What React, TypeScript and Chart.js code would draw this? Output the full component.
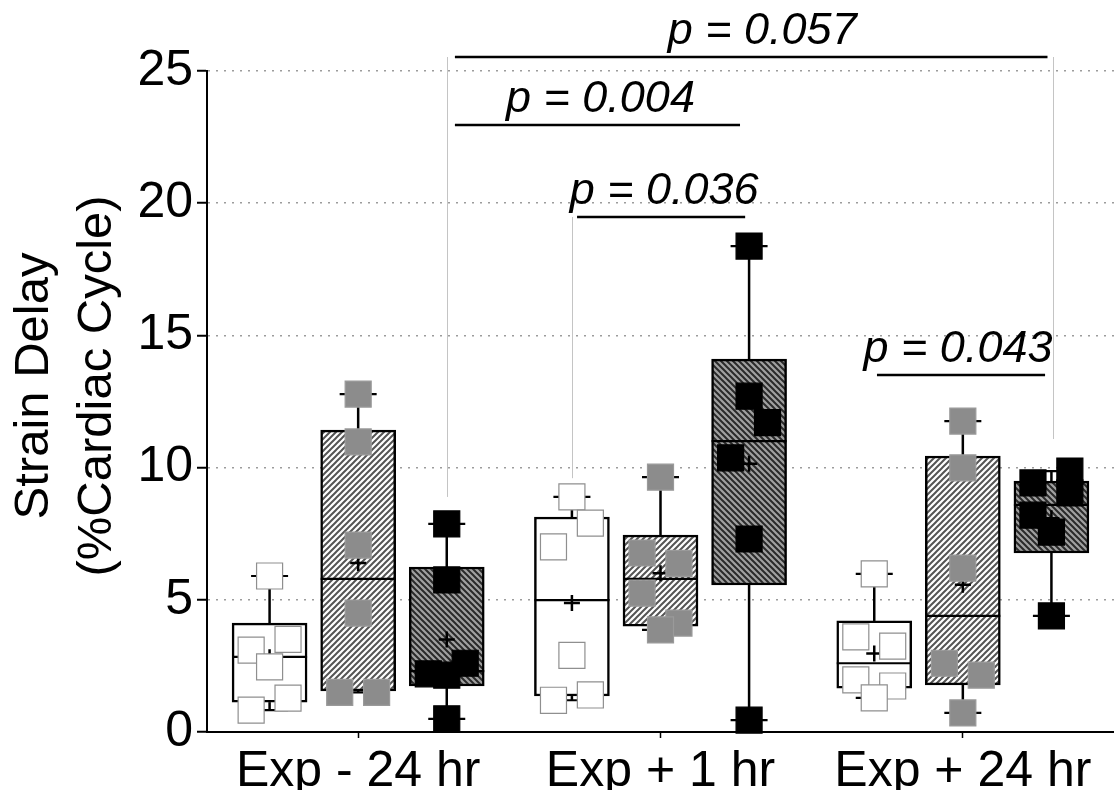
import React, { useEffect, useRef } from 'react';
import { Chart, registerables } from 'chart.js';

Chart.register(...registerables);

// ---------- data ----------
const CATEGORIES = ['Exp - 24 hr', 'Exp + 1 hr', 'Exp + 24 hr'];
const Y_TITLE = ['Strain Delay', '(%Cardiac Cycle)'];

// individual points per group (series A = white, B = light hatch, C = dark hatch)
const POINTS_A = [
  [5.9, 3.5, 3.1, 2.46, 1.28, 0.83],
  [8.89, 7.9, 7.0, 2.9, 1.2, 1.4],
  [5.98, 3.6, 3.25, 1.97, 1.74, 1.29],
];
const POINTS_B = [
  [12.78, 10.97, 7.07, 4.5, 1.5, 1.5],
  [9.64, 6.77, 6.38, 5.25, 4.12, 3.86],
  [11.76, 9.99, 6.2, 2.6, 2.15, 0.72],
];
const POINTS_C = [
  [7.87, 5.75, 2.6, 2.2, 2.15, 0.5],
  [18.38, 12.7, 11.7, 10.37, 7.3, 0.45],
  [9.87, 9.42, 9.04, 8.2, 7.56, 4.39],
];
// horizontal jitter slot of each point (-1 left, 0 centre, 1 right)
const JITTER_A = [[0, 1, -1, 0, 1, -1], [0, 1, -1, 0, -1, 1], [0, -1, 1, -1, 1, 0]];
const JITTER_B = [[0, 0, 0, 0, -1, 1], [0, -1, 1, -1, 1, 0], [0, 0, 0, -1, 1, 0]];
const JITTER_C = [[0, 0, 1, -1, 0, 0], [0, 0, 1, -1, 0, 0], [1, -1, 1, -1, 0, 0]];

// box statistics per group
const Q1_A = [1.13, 1.36, 1.66];
const MED_A = [2.84, 4.99, 2.6];
const Q3_A = [4.12, 8.13, 4.2];
const MIN_A = [0.83, 1.2, 1.29];
const MAX_A = [5.9, 8.89, 5.98];
const MEAN_A = [2.83, 4.88, 2.97];

const Q1_B = [1.55, 4.0, 1.78];
const MED_B = [5.79, 5.79, 4.39];
const Q3_B = [11.42, 7.45, 10.44];
const MIN_B = [1.5, 3.86, 0.72];
const MAX_B = [12.78, 9.64, 11.76];
const MEAN_B = [6.39, 6.0, 5.57];

const Q1_C = [1.74, 5.56, 6.77];
const MED_C = [2.3, 11.0, 8.59];
const Q3_C = [6.24, 14.1, 9.49];
const MIN_C = [0.5, 0.45, 4.39];
const MAX_C = [7.87, 18.38, 9.87];
const MEAN_C = [3.5, 10.15, 8.08];

// significance annotations (x in category units, y in data units)
const P_TEXT = ['p = 0.057', 'p = 0.004', 'p = 0.036', 'p = 0.043'];
const P_X1 = [1.32, 1.32, 1.724, 2.716];
const P_X2 = [3.28, 2.263, 2.28, 3.272];
const P_Y = [25.53, 22.96, 19.48, 13.5];
const LINK_X = [1.294, 1.707, 3.298];
const LINK_Y1 = [25.53, 19.48, 25.53];
const LINK_Y2 = [8.89, 9.6, 11.08];

// ---------- layout / style constants ----------
const W = 1114;
const H = 790;
const FONT = '"Liberation Sans", Arial, Helvetica, sans-serif';
const SERIES_SHIFT = [-0.293, 0, 0.293];
const JITTER_STEP = 0.061;
const P_TEXT_SHIFT = [11, 3, 3, -3];

const POINTS = [POINTS_A, POINTS_B, POINTS_C];
const JITTER = [JITTER_A, JITTER_B, JITTER_C];
const Q1 = [Q1_A, Q1_B, Q1_C];
const MED = [MED_A, MED_B, MED_C];
const Q3 = [Q3_A, Q3_B, Q3_C];
const MIN = [MIN_A, MIN_B, MIN_C];
const MAX = [MAX_A, MAX_B, MAX_C];
const MEAN = [MEAN_A, MEAN_B, MEAN_C];

function makeHatch(ctx: CanvasRenderingContext2D, bg: string, fg: string, dir: string, lw: number) {
  const s = 6;
  const c = document.createElement('canvas');
  c.width = s;
  c.height = s;
  const x = c.getContext('2d')!;
  x.fillStyle = bg;
  x.fillRect(0, 0, s, s);
  x.strokeStyle = fg;
  x.lineWidth = lw;
  x.beginPath();
  if (dir === '/') {
    x.moveTo(-s, 2 * s); x.lineTo(2 * s, -s);
    x.moveTo(-s, s); x.lineTo(s, -s);
    x.moveTo(0, 2 * s); x.lineTo(2 * s, 0);
  } else {
    x.moveTo(-s, -s); x.lineTo(2 * s, 2 * s);
    x.moveTo(-s, 0); x.lineTo(s, 2 * s);
    x.moveTo(0, -s); x.lineTo(2 * s, s);
  }
  x.stroke();
  return ctx.createPattern(c, 'repeat');
}

export default function App() {
  const ref = useRef<HTMLCanvasElement>(null);

  useEffect(() => {
    const canvas = ref.current!;
    const ctx = canvas.getContext('2d')!;
    const fills: any[] = [
      '#ffffff',
      makeHatch(ctx, '#ffffff', '#555555', '/', 2),
      makeHatch(ctx, '#a0a0a0', '#2a2a2a', '\\', 2),
    ];
    const pointFill = ['#ffffff', '#8c8c8c', '#000000'];
    const pointBorder = ['#8f8f8f', '#9a9a9a', '#000000'];

    const boxDatasets = [0, 1, 2].map((si) => ({
      type: 'bar',
      kind: 'box',
      series: si,
      data: CATEGORIES.map((_, g) => ({ x: g + 1 + SERIES_SHIFT[si], y: [Q1[si][g], Q3[si][g]] })),
      backgroundColor: fills[si],
      borderColor: '#000',
      borderWidth: 2.5,
      borderSkipped: false,
      barThickness: 75,
      grouped: false,
      order: 3,
      clip: false,
    }));

    const meanDatasets = [0, 1, 2].map((si) => ({
      type: 'scatter',
      data: CATEGORIES.map((_, g) => ({ x: g + 1 + SERIES_SHIFT[si], y: MEAN[si][g] })),
      pointStyle: 'cross',
      pointRadius: 8,
      borderColor: '#000',
      borderWidth: 2.5,
      backgroundColor: '#000',
      order: 2,
      clip: false,
    }));

    const pointDatasets = [0, 1, 2].map((si) => ({
      type: 'scatter',
      data: POINTS[si].flatMap((vals, g) =>
        vals.map((v, k) => ({ x: g + 1 + SERIES_SHIFT[si] + JITTER[si][g][k] * JITTER_STEP, y: v }))
      ),
      pointStyle: 'rect',
      pointRadius: 18.4,
      backgroundColor: pointFill[si],
      borderColor: pointBorder[si],
      borderWidth: 1.2,
      order: 1,
      clip: false,
    }));

    const boxPlugin = {
      id: 'boxWhiskers',
      afterDatasetDraw(chart: any, args: any) {
        const ds = chart.data.datasets[args.index];
        if (ds.kind !== 'box') return;
        const si = ds.series;
        const y = chart.scales.y;
        const c = chart.ctx;
        const cap = 18.5;
        c.save();
        c.strokeStyle = '#000';
        const line = (x1: number, y1: number, x2: number, y2: number, lw: number) => {
          c.lineWidth = lw;
          c.beginPath();
          c.moveTo(x1, y1);
          c.lineTo(x2, y2);
          c.stroke();
        };
        args.meta.data.forEach((bar: any, g: number) => {
          const { x, width } = bar.getProps(['x', 'width'], true);
          const yq1 = y.getPixelForValue(Q1[si][g]);
          const yq3 = y.getPixelForValue(Q3[si][g]);
          const ymin = y.getPixelForValue(MIN[si][g]);
          const ymax = y.getPixelForValue(MAX[si][g]);
          const ymed = y.getPixelForValue(MED[si][g]);
          line(x, yq3, x, ymax, 2.5);
          line(x, yq1, x, ymin, 2.5);
          line(x - cap, ymax, x + cap, ymax, 2.2);
          line(x - cap, ymin, x + cap, ymin, 2.2);
          line(x - width / 2, ymed, x + width / 2, ymed, 2.2);
        });
        c.restore();
      },
    };

    const annotationPlugin = {
      id: 'pValues',
      beforeDatasetsDraw(chart: any) {
        const xs = chart.scales.x;
        const ys = chart.scales.y;
        const c = chart.ctx;
        c.save();
        c.strokeStyle = '#c4c4c4';
        c.lineWidth = 1;
        LINK_X.forEach((lx, i) => {
          const px = Math.round(xs.getPixelForValue(lx)) + 0.5;
          c.beginPath();
          c.moveTo(px, ys.getPixelForValue(LINK_Y1[i]));
          c.lineTo(px, ys.getPixelForValue(LINK_Y2[i]));
          c.stroke();
        });
        c.strokeStyle = '#000';
        c.lineWidth = 2.5;
        c.fillStyle = '#000';
        c.font = `italic 45px ${FONT}`;
        c.textAlign = 'center';
        c.textBaseline = 'alphabetic';
        P_TEXT.forEach((t, i) => {
          const x1 = xs.getPixelForValue(P_X1[i]);
          const x2 = xs.getPixelForValue(P_X2[i]);
          const py = ys.getPixelForValue(P_Y[i]);
          c.beginPath();
          c.moveTo(x1, py);
          c.lineTo(x2, py);
          c.stroke();
          c.fillText(t, (x1 + x2) / 2 + P_TEXT_SHIFT[i], py - 13);
        });
        c.restore();
      },
      afterDraw(chart: any) {
        const c = chart.ctx;
        c.save();
        c.fillStyle = '#000';
        c.font = `49px ${FONT}`;
        c.textAlign = 'center';
        c.textBaseline = 'alphabetic';
        const cy = 386;
        [48, 111].forEach((bx, i) => {
          c.save();
          c.translate(bx, cy);
          c.rotate(-Math.PI / 2);
          c.fillText(Y_TITLE[i], 0, 0);
          c.restore();
        });
        c.restore();
      },
    };

    const chart = new Chart(canvas, {
      type: 'bar',
      data: { datasets: [...boxDatasets, ...meanDatasets, ...pointDatasets] as any },
      options: {
        responsive: false,
        animation: false,
        devicePixelRatio: 1,
        layout: { autoPadding: false, padding: { top: 71, right: 0, bottom: 0, left: 0 } },
        plugins: { legend: { display: false }, tooltip: { enabled: false }, title: { display: false } },
        scales: {
          x: {
            type: 'linear',
            min: 0.5,
            max: 3.5,
            offset: false,
            afterFit: (s: any) => { s.height = 58; s.paddingLeft = 0; s.paddingRight = 0; },
            afterBuildTicks: (s: any) => { s.ticks = CATEGORIES.map((_, i) => ({ value: i + 1 })); },
            grid: { display: true, offset: false, drawOnChartArea: false, drawTicks: true, tickLength: 6, tickWidth: 1.5, tickColor: '#000' },
            border: { display: true, color: '#000', width: 2 },
            ticks: {
              autoSkip: false,
              maxRotation: 0,
              padding: 4,
              color: '#000',
              font: { family: FONT, size: 50 },
              callback: (v: any) => CATEGORIES[Math.round(v) - 1] ?? '',
            },
          },
          y: {
            type: 'linear',
            min: 0,
            max: 25,
            afterFit: (s: any) => { s.width = 207; s.paddingTop = 0; s.paddingBottom = 0; },
            grid: {
              color: (c: any) => (c.tick && c.tick.value === 0 ? 'rgba(0,0,0,0)' : '#9c9c9c'),
              lineWidth: 1.5,
              drawTicks: true,
              tickLength: 10,
              tickWidth: 2,
              tickColor: '#000',
            },
            border: { display: true, color: '#000', width: 2, dash: [2, 6] },
            ticks: { stepSize: 5, padding: 4, color: '#000', font: { family: FONT, size: 50 } },
          },
        },
      } as any,
      plugins: [boxPlugin, annotationPlugin],
    });
    return () => chart.destroy();
  }, []);

  return (
    <div style={{ position: 'absolute', left: 0, top: 0, width: W, height: H, background: '#fff' }}>
      <canvas ref={ref} width={W} height={H} style={{ display: 'block' }} />
    </div>
  );
}
